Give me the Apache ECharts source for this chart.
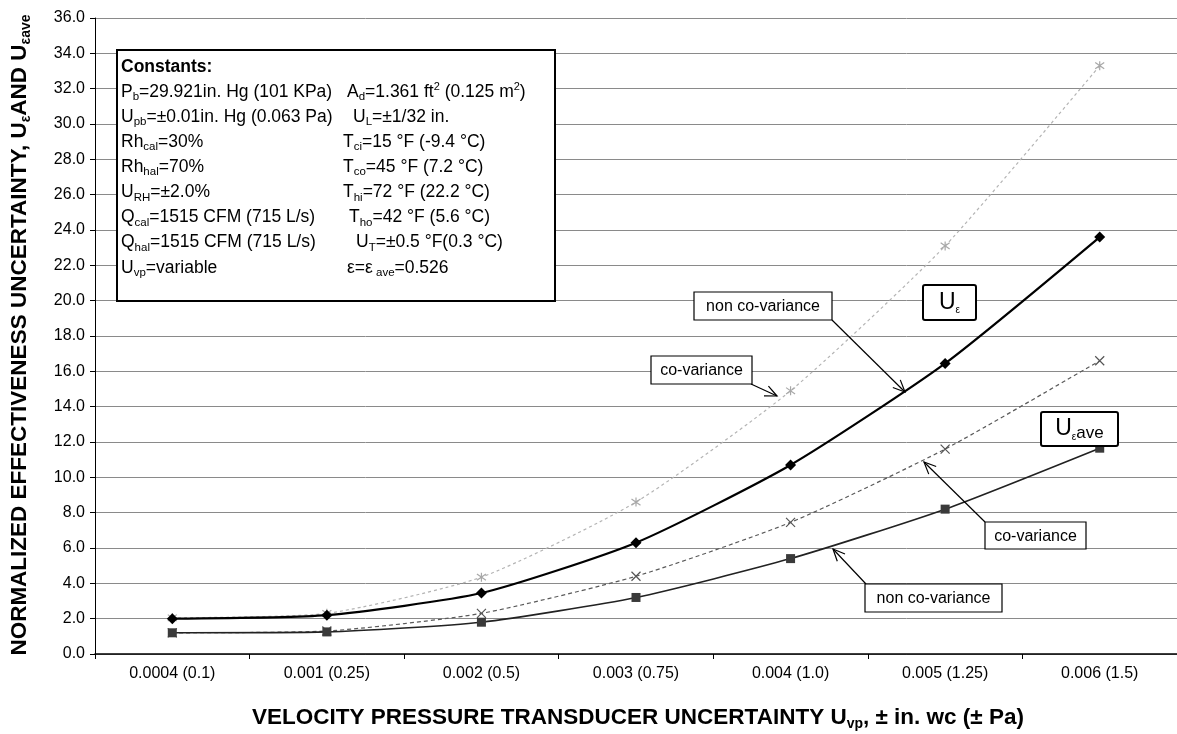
<!DOCTYPE html>
<html><head><meta charset="utf-8">
<script src="https://cdn.jsdelivr.net/npm/echarts@6/dist/echarts.min.js"></script>
<style>html,body{margin:0;padding:0;background:#fff}#c{width:1177px;height:734px}</style>
</head><body><div id="c"></div>
<script>
// ---- data ----
const categories = ['0.0004 (0.1)', '0.001 (0.25)', '0.002 (0.5)', '0.003 (0.75)', '0.004 (1.0)', '0.005 (1.25)', '0.006 (1.5)'];
const uEpsNonCov    = [2.0, 2.2, 3.45, 6.3, 10.7, 16.45, 23.6];
const uEpsCov       = [2.05, 2.3, 4.35, 8.6, 14.9, 23.1, 33.3];
const uEpsAveCov    = [1.2, 1.3, 2.3, 4.4, 7.45, 11.6, 16.6];
const uEpsAveNonCov = [1.2, 1.25, 1.8, 3.2, 5.4, 8.2, 11.65];
const yMin = 0, yMax = 36, yStep = 2;

const constantsLeft = [
  'P{s|b}=29.921in. Hg (101 KPa)',
  'U{s|pb}=±0.01in. Hg (0.063 Pa)',
  'Rh{s|cal}=30%',
  'Rh{s|hal}=70%',
  'U{s|RH}=±2.0%',
  'Q{s|cal}=1515 CFM (715 L/s)',
  'Q{s|hal}=1515 CFM (715 L/s)',
  'U{s|vp}=variable'
];
const constantsRight = [
  'A{s|d}=1.361 ft{p|2} (0.125 m{p|2})',
  'U{s|L}=±1/32 in.',
  'T{s|ci}=15 °F (-9.4 °C)',
  'T{s|co}=45 °F (7.2 °C)',
  'T{s|hi}=72 °F (22.2 °C)',
  'T{s|ho}=42 °F (5.6 °C)',
  'U{s|T}=±0.5 °F(0.3 °C)',
  'ε=ε{s| ave}=0.526'
];
const constantsRightX = [347, 353, 343, 343, 343, 349, 356, 347];

// ---- layout ----
const FONT = '"Liberation Sans", Arial, sans-serif';
const chart = echarts.init(document.getElementById('c'), null, {renderer: 'canvas'});

const richSmall = {
  s: {fontSize: 11.5, fontFamily: FONT, verticalAlign: 'bottom', lineHeight: 12, color: '#000'},
  p: {fontSize: 11, fontFamily: FONT, verticalAlign: 'top', lineHeight: 12, color: '#000'},
  b: {fontSize: 17.5, fontWeight: 'bold', fontFamily: FONT, lineHeight: 22, color: '#000'}
};

const graphics = [];
// constants box
graphics.push({type: 'rect', shape: {x: 117, y: 50, width: 438, height: 251},
  style: {fill: '#fff', stroke: '#000', lineWidth: 2}, z: 100});
graphics.push({type: 'text', x: 121, y: 67, z: 101,
  style: {text: '{b|Constants:}', rich: richSmall, fontSize: 17.5, fontFamily: FONT, lineHeight: 22, fill: '#000', verticalAlign: 'middle'}});
constantsLeft.forEach((t, i) => {
  graphics.push({type: 'text', x: 121, y: 92 + 25.1 * i, z: 101,
    style: {text: t, rich: richSmall, fontSize: 17.5, fontFamily: FONT, lineHeight: 22, fill: '#000', verticalAlign: 'middle'}});
});
constantsRight.forEach((t, i) => {
  graphics.push({type: 'text', x: constantsRightX[i], y: 92 + 25.1 * i, z: 101,
    style: {text: t, rich: richSmall, fontSize: 17.5, fontFamily: FONT, lineHeight: 22, fill: '#000', verticalAlign: 'middle'}});
});

// annotation labels with arrows
const notes = [
  {text: 'non co-variance', x: 694, y: 292, w: 138, h: 28, arrow: [832, 320, 905, 392]},
  {text: 'co-variance', x: 651, y: 356, w: 101, h: 28, arrow: [751, 384, 777, 396]},
  {text: 'co-variance', x: 985, y: 522, w: 101, h: 27, arrow: [985, 522, 924, 462]},
  {text: 'non co-variance', x: 865, y: 584, w: 137, h: 28, arrow: [866, 584, 833, 549]}
];
notes.forEach(n => {
  const [x1, y1, x2, y2] = n.arrow;
  const ang = Math.atan2(y2 - y1, x2 - x1);
  const L = 13, A = 0.42;
  graphics.push({type: 'polyline', z: 99, shape: {points: [[x1, y1], [x2, y2]]}, style: {stroke: '#000', lineWidth: 1.2, fill: null}});
  graphics.push({type: 'polyline', z: 99, shape: {points: [
    [x2 - L * Math.cos(ang - A), y2 - L * Math.sin(ang - A)], [x2, y2],
    [x2 - L * Math.cos(ang + A), y2 - L * Math.sin(ang + A)]]}, style: {stroke: '#000', lineWidth: 1.2, fill: null}});
  graphics.push({type: 'rect', z: 100, shape: {x: n.x, y: n.y, width: n.w, height: n.h}, style: {fill: '#fff', stroke: '#000', lineWidth: 1.2}});
  graphics.push({type: 'text', z: 101, x: n.x + n.w / 2, y: n.y + n.h / 2 + 1,
    style: {text: n.text, font: '16px ' + FONT, fill: '#000', align: 'center', verticalAlign: 'middle'}});
});
// U boxes
const uRich = {
  e: {fontSize: 10, fontFamily: FONT, verticalAlign: 'bottom', lineHeight: 14, color: '#000'},
  a: {fontSize: 17, fontFamily: FONT, verticalAlign: 'bottom', lineHeight: 20, color: '#000'}
};
[{x: 923, y: 285, w: 53, h: 35, t: 'U{e|ε}'}, {x: 1041, y: 412, w: 77, h: 34, t: 'U{e|ε}{a|ave}'}].forEach(b => {
  graphics.push({type: 'rect', z: 100, shape: {x: b.x, y: b.y, width: b.w, height: b.h, r: 2}, style: {fill: '#fff', stroke: '#000', lineWidth: 2}});
  graphics.push({type: 'text', z: 101, x: b.x + b.w / 2, y: b.y + b.h / 2,
    style: {text: b.t, rich: uRich, fontSize: 23, fontFamily: FONT, lineHeight: 26, fill: '#000', align: 'center', verticalAlign: 'middle'}});
});

// axis titles
const titleRich = {
  s: {fontSize: 14, fontWeight: 'bold', fontFamily: FONT, verticalAlign: 'bottom', lineHeight: 15, color: '#000'}
};
graphics.push({type: 'text', z: 101, x: 20, y: 335, rotation: Math.PI / 2,
  style: {text: 'NORMALIZED EFFECTIVENESS UNCERTAINTY, U{s|ε}AND U{s|εave}', rich: titleRich,
    fontSize: 22.5, fontWeight: 'bold', fontFamily: FONT, lineHeight: 26, fill: '#000', align: 'center', verticalAlign: 'middle'}});
graphics.push({type: 'text', z: 101, x: 638, y: 718,
  style: {text: 'VELOCITY PRESSURE TRANSDUCER UNCERTAINTY U{s|vp}, ± in. wc (± Pa)', rich: titleRich,
    fontSize: 22.5, fontWeight: 'bold', fontFamily: FONT, lineHeight: 26, fill: '#000', align: 'center', verticalAlign: 'middle'}});

const xPath = 'path://M0,0L10,10M10,0L0,10';
const starPath = 'path://M5,0L5,10M0,1.5L10,8.5M10,1.5L0,8.5';

const option = {
  animation: false,
  backgroundColor: '#fff',
  grid: {left: 95, right: 0, top: 18, bottom: 80, containLabel: false, outerBoundsMode: 'none'},
  xAxis: {
    type: 'category', data: categories, boundaryGap: true,
    axisLine: {lineStyle: {color: '#000', width: 1.5}},
    axisTick: {show: true, length: 5, lineStyle: {color: '#000'}},
    axisLabel: {fontSize: 16, fontFamily: FONT, color: '#000', margin: 12},
    splitLine: {show: false}
  },
  yAxis: {
    type: 'value', min: yMin, max: yMax, interval: yStep,
    axisLine: {show: true, lineStyle: {color: '#000', width: 1}},
    axisTick: {show: true, length: 5, lineStyle: {color: '#000'}},
    axisLabel: {fontSize: 16, fontFamily: FONT, color: '#000', margin: 10, formatter: v => v.toFixed(1)},
    splitLine: {show: true, lineStyle: {color: '#8a8a8a', width: 1}}
  },
  series: [
    {name: 'U_eps co-variance', type: 'line', data: uEpsCov, smooth: 0.2,
      symbol: starPath, symbolSize: 9,
      lineStyle: {color: '#b4b4b4', width: 1.2, type: [3, 3]},
      itemStyle: {color: 'rgba(0,0,0,0)', borderColor: '#a8a8a8', borderWidth: 1.2}, z: 3},
    {name: 'U_eps_ave co-variance', type: 'line', data: uEpsAveCov, smooth: 0.2,
      symbol: xPath, symbolSize: 9,
      lineStyle: {color: '#5a5a5a', width: 1.2, type: [4, 3]},
      itemStyle: {color: 'rgba(0,0,0,0)', borderColor: '#555', borderWidth: 1.2}, z: 4},
    {name: 'U_eps_ave non co-variance', type: 'line', data: uEpsAveNonCov, smooth: 0.2,
      symbol: 'rect', symbolSize: 9,
      lineStyle: {color: '#222', width: 1.6},
      itemStyle: {color: '#3a3a3a'}, z: 5},
    {name: 'U_eps non co-variance', type: 'line', data: uEpsNonCov, smooth: 0.2,
      symbol: 'diamond', symbolSize: 11,
      lineStyle: {color: '#000', width: 2.2},
      itemStyle: {color: '#000'}, z: 6}
  ],
  graphic: graphics
};
chart.setOption(option);
</script>
</body></html>
